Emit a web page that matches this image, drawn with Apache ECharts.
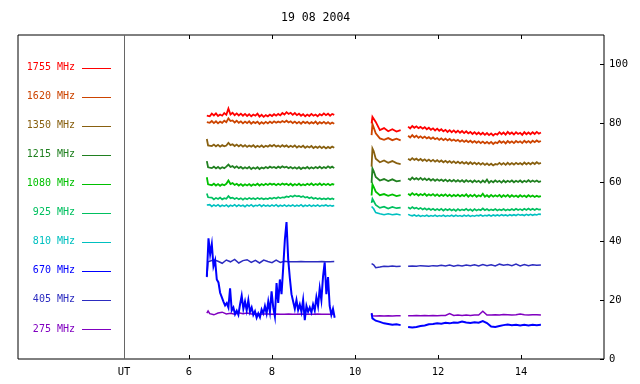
<!DOCTYPE html>
<html>
<head>
<meta charset="utf-8">
<script src="https://cdn.jsdelivr.net/npm/echarts@6/dist/echarts.min.js"></script>
<style>html,body{margin:0;padding:0;background:#fff}#c{width:640px;height:384px}</style>
</head>
<body>
<div id="c"></div>
<script>
// ---- data ----
const title = '19 08 2004';
const freqNames = ['1755 MHz','1620 MHz','1350 MHz','1215 MHz','1080 MHz','925 MHz','810 MHz','670 MHz','405 MHz','275 MHz'];
const freqColors = ['#ff0000','#cc4400','#886010','#208020','#00c000','#00c060','#00c0c0','#0000ff','#2c2cc0','#8000c0'];
const xTickValues = [6, 8, 10, 12, 14];
const yTickValues = [0, 20, 40, 60, 80, 100];
const utPos = 4.434;

// time grids (UT hours)
const t1 = [6.43,6.46,6.5,6.6,6.7,6.8,6.9,7.0,7.1,7.2,7.3,7.4,7.5,7.6,7.7,7.8,7.9,8.0,8.1,8.2,8.3,8.4,8.5,8.6,8.7,8.8,8.9,9.0,9.1,9.2,9.3,9.4,9.5];
const t1dense = [6.43,6.46,6.50,6.55,6.60,6.65,6.70,6.75,6.80,6.85,6.90,6.95,7.00,7.05,7.10,7.15,7.20,7.25,7.30,7.35,7.40,7.45,7.50,7.55,7.60,7.65,7.70,7.75,7.80,7.85,7.90,7.95,8.00,8.05,8.10,8.15,8.20,8.25,8.30,8.35,8.40,8.45,8.50,8.55,8.60,8.65,8.70,8.75,8.80,8.85,8.90,8.95,9.00,9.05,9.10,9.15,9.20,9.25,9.30,9.35,9.40,9.45,9.50];
const t1fine = [6.43,6.47,6.51,6.55,6.59,6.63,6.67,6.71,6.75,6.79,6.83,6.87,6.91,6.95,6.99,7.03,7.07,7.11,7.15,7.19,7.23,7.27,7.31,7.35,7.39,7.43,7.47,7.51,7.55,7.59,7.63,7.67,7.71,7.75,7.79,7.83,7.87,7.91,7.95,7.99,8.03,8.07,8.11,8.15,8.19,8.23,8.27,8.31,8.35,8.39,8.43,8.47,8.51,8.55,8.59,8.63,8.67,8.71,8.75,8.79,8.83,8.87,8.91,8.95,8.99,9.03,9.07,9.11,9.15,9.19,9.23,9.27,9.31,9.35,9.39,9.43,9.47,9.51];
const t2a = [10.40,10.42,10.45,10.5,10.6,10.7,10.8,10.9,11.0,11.1];
const t2b = [11.28,11.38,11.48,11.58,11.68,11.78,11.88,11.98,12.08,12.18,12.28,12.38,12.48,12.58,12.68,12.78,12.88,12.98,13.08,13.18,13.28,13.38,13.48,13.58,13.68,13.78,13.88,13.98,14.08,14.18,14.28,14.38,14.48];
const t2bDense = [11.28,11.33,11.38,11.43,11.48,11.53,11.58,11.63,11.68,11.73,11.78,11.83,11.88,11.93,11.98,12.03,12.08,12.13,12.18,12.23,12.28,12.33,12.38,12.43,12.48,12.53,12.58,12.63,12.68,12.73,12.78,12.83,12.88,12.93,12.98,13.03,13.08,13.13,13.18,13.23,13.28,13.33,13.38,13.43,13.48,13.53,13.58,13.63,13.68,13.73,13.78,13.83,13.88,13.93,13.98,14.03,14.08,14.13,14.18,14.23,14.28,14.33,14.38,14.43,14.48];

// 1755 MHz
const f1755a = [82.6,83.1,82.4,83.3,82.7,83.4,82.5,83.0,82.6,83.5,
  82.9,85.0,83.0,83.6,82.8,83.4,82.7,83.3,82.6,83.2,
  82.5,83.1,82.4,83.0,82.6,83.3,82.3,82.9,82.2,82.8,
  82.4,83.0,82.5,83.1,82.6,83.2,82.7,83.5,83.0,83.8,
  83.2,83.6,82.9,83.5,82.8,83.3,82.6,83.1,82.4,83.0,
  82.5,83.2,82.6,83.0,82.4,83.1,82.7,83.4,82.8,83.3,
  82.6,83.2,82.9];
const f1755b = [80.0,82.2,81.9,80.5,77.7,78.4,77.3,78.0,77.2,77.7];
const f1755c = [78.9,78.3,79.1,78.5,79.0,78.4,78.8,78.2,78.7,78.0,
  78.5,77.8,78.3,77.6,78.2,77.5,78.0,77.3,77.8,77.1,
  77.7,77.0,77.6,76.9,77.5,76.8,77.4,76.7,77.3,76.6,
  77.1,76.4,77.0,76.3,76.9,76.2,76.8,76.1,76.7,76.0,
  76.6,75.9,76.5,76.2,77.0,76.3,76.9,76.2,77.1,76.4,
  76.9,76.2,77.0,76.4,76.8,76.1,77.0,76.3,76.9,76.3,
  77.0,76.4,77.1,76.5,76.9];
// 1620 MHz
const f1620a = [80.4,80.9,80.2,80.8,80.1,80.7,80.0,80.6,80.2,80.9,
  80.4,81.7,80.8,81.0,80.3,80.9,80.2,80.7,80.0,80.6,
  80.1,80.7,79.9,80.5,80.1,80.6,79.8,80.4,79.9,80.5,
  80.0,80.6,80.1,80.7,80.2,80.6,80.3,80.8,80.4,80.9,
  80.3,80.7,80.1,80.6,80.0,80.5,79.9,80.6,80.1,80.5,
  79.9,80.4,80.0,80.6,79.8,80.4,80.0,80.5,79.9,80.4,
  79.8,80.3,79.9];
const f1620b = [76.0,79.8,79.2,76.6,74.9,74.4,75.0,74.3,74.8,74.2];
const f1620c = [75.8,75.2,76.0,75.3,75.8,75.1,75.6,75.0,75.5,74.9,
  75.3,74.7,75.2,74.6,75.0,74.4,74.9,74.3,74.8,74.2,
  74.7,74.1,74.5,74.0,74.4,73.8,74.3,73.7,74.2,73.6,
  74.1,73.5,74.0,73.4,73.9,73.3,73.8,73.2,73.7,73.1,
  73.7,73.0,73.6,73.3,74.0,73.4,73.9,73.2,74.0,73.4,
  73.9,73.3,74.0,73.5,73.9,73.3,74.1,73.5,74.0,73.4,
  74.1,73.6,74.2,73.7,74.0];
// 1350 MHz
const f1350a = [74.7,72.5,72.9,72.3,72.8,72.2,72.7,72.1,72.6,72.2,
  72.5,73.4,72.6,72.9,72.3,72.8,72.2,72.7,72.1,72.6,
  72.0,72.5,72.1,72.6,71.9,72.4,72.0,72.5,71.9,72.4,
  72.1,72.6,72.2,72.7,72.1,72.5,72.0,72.6,72.1,72.5,
  71.9,72.4,72.0,72.5,71.8,72.3,71.9,72.4,71.7,72.2,
  71.8,72.3,71.6,72.1,71.7,72.2,71.6,72.1,71.5,72.0,
  71.6,72.1,71.7];
const f1350b = [65.3,71.5,70.6,68.0,66.8,67.4,66.6,67.2,66.5,66.2];
const f1350c = [68.0,67.5,68.2,67.6,68.0,67.4,67.9,67.3,67.8,67.2,
  67.7,67.1,67.6,67.0,67.5,66.9,67.4,66.8,67.3,66.7,
  67.2,66.6,67.1,66.5,67.0,66.4,66.9,66.3,66.8,66.2,
  66.8,66.2,66.7,66.1,66.6,66.0,66.5,65.9,66.4,65.8,
  66.3,65.7,66.2,66.0,66.6,66.0,66.5,65.9,66.6,66.0,
  66.5,66.0,66.6,66.1,66.5,66.0,66.7,66.1,66.6,66.1,
  66.7,66.2,66.8,66.3,66.6];
// 1215 MHz
const f1215a = [67.2,65.1,65.4,64.8,65.3,64.7,65.2,64.6,65.1,64.8,
  65.3,66.0,65.2,65.5,64.9,65.4,64.8,65.2,64.6,65.1,
  64.7,65.2,64.5,65.0,64.6,65.1,64.5,65.0,64.7,65.2,
  64.8,65.3,64.9,65.2,64.8,65.3,64.9,65.4,65.0,65.3,
  64.8,65.2,64.7,65.1,64.6,65.1,64.5,65.0,64.7,65.2,
  64.6,65.1,64.7,65.2,64.8,65.3,64.7,65.2,64.8,65.4,
  64.9,65.3,64.8];
const f1215b = [59.8,64.7,63.8,61.8,60.6,61.1,60.4,61.0,60.3,60.6];
const f1215c = [61.3,60.8,61.6,61.0,61.4,60.9,61.5,60.8,61.3,60.7,
  61.2,60.6,61.1,60.5,61.0,60.5,60.9,60.4,60.9,60.3,
  60.8,60.3,60.8,60.2,60.7,60.2,60.7,60.1,60.7,60.2,
  60.6,60.0,60.6,60.1,60.5,59.9,60.6,60.0,60.9,59.8,
  60.5,60.0,60.6,60.1,60.5,59.9,60.6,60.0,60.5,60.1,
  60.6,60.0,60.5,60.1,60.6,60.0,60.5,60.1,60.7,60.1,
  60.6,60.2,60.6,60.1,60.4];
// 1080 MHz
const f1080a = [61.7,59.3,59.6,59.0,59.5,58.9,59.4,58.8,59.3,59.0,
  59.5,60.6,59.4,59.7,59.1,59.5,58.9,59.4,58.8,59.3,
  58.9,59.4,58.8,59.3,59.0,59.5,58.9,59.4,59.0,59.5,
  59.1,59.6,59.2,59.5,59.0,59.5,59.1,59.6,59.2,59.5,
  59.0,59.5,58.9,59.4,59.0,59.5,58.9,59.3,59.0,59.5,
  59.1,59.6,59.0,59.4,59.1,59.6,59.0,59.5,59.1,59.5,
  59.0,59.4,59.2];
const f1080b = [55.5,59.3,58.4,56.8,55.6,56.0,55.4,55.9,55.3,55.6];
const f1080c = [56.1,55.6,56.3,55.7,56.1,55.5,56.0,55.6,56.1,55.4,
  55.9,55.5,56.0,55.4,55.9,55.3,55.8,55.4,55.9,55.3,
  55.8,55.2,55.7,55.3,55.8,55.2,55.7,55.3,55.9,55.1,
  55.7,55.2,55.8,55.1,55.6,55.2,56.1,55.1,55.6,55.0,
  55.7,55.1,55.6,55.2,55.7,55.0,55.6,55.1,55.7,55.0,
  55.6,55.1,55.5,55.0,55.6,55.1,55.5,55.0,55.6,55.1,
  55.5,55.0,55.4,55.1,55.3];
// 925 MHz
const f925a = [56.2,54.9,54.3,54.8,54.2,54.7,54.3,54.8,54.2,54.6,
  54.4,55.3,54.6,54.8,54.3,54.7,54.2,54.6,54.1,54.6,
  54.2,54.7,54.3,54.6,54.2,54.7,54.3,54.6,54.2,54.5,
  54.3,54.7,54.4,54.8,54.5,54.9,54.6,54.9,54.8,55.2,
  55.0,55.4,55.1,55.5,55.2,55.4,55.0,55.3,54.8,55.0,
  54.6,54.9,54.4,54.7,54.3,54.6,54.2,54.5,54.2,54.6,
  54.2,54.5,54.2];
const f925b = [53.0,54.4,54.2,52.3,51.3,51.7,51.1,51.6,51.2,51.4];
const f925c = [51.5,51.0,51.6,51.1,51.4,50.9,51.3,50.8,51.2,50.7,
  51.1,50.6,51.0,50.5,50.9,50.5,51.0,50.4,50.9,50.5,
  50.9,50.4,50.8,50.3,50.9,50.4,50.8,50.5,51.0,50.4,
  50.8,50.3,50.9,50.4,50.8,50.5,51.1,50.5,50.9,50.4,
  50.8,50.5,50.9,50.4,50.8,50.5,50.9,50.4,50.8,50.5,
  50.9,50.5,51.0,50.6,50.9,50.5,51.0,50.6,51.1,50.6,
  51.0,50.6,51.0,50.7,50.8];
// 810 MHz
const f810a = [52.3,52.0,52.4,51.8,52.3,51.9,52.4,51.8,52.2,51.9,
  52.3,51.7,52.2,51.9,52.4,51.8,52.3,51.9,52.2,51.7,
  52.3,51.9,52.4,51.8,52.2,52.0,52.4,51.8,52.3,51.9,
  52.2,51.8,52.3,51.9,52.4,51.8,52.2,51.9,52.3,51.8,
  52.2,51.9,52.3,51.8,52.2,51.9,52.4,51.8,52.2,51.9,
  52.3,51.8,52.2,51.9,52.3,51.8,52.2,52.0,52.3,51.9,
  52.2,51.9,52.1];
const f810b = [51.8,51.7,51.0,49.7,49.3,49.0,49.3,49.0,49.2,48.9];
const f810c = [49.1,48.8,48.6,48.9,48.5,48.8,48.4,48.7,48.5,48.8,
  48.4,48.7,48.5,48.8,48.4,48.7,48.5,48.8,48.4,48.7,
  48.5,48.8,48.4,48.8,48.5,48.7,48.4,48.8,48.5,48.8,
  48.4,48.7,48.5,48.8,48.6,48.9,48.5,48.8,48.6,48.9,
  48.5,48.9,48.6,48.9,48.6,49.0,48.7,48.9,48.6,49.0,
  48.7,49.0,48.7,49.1,48.8,49.0,48.7,49.1,48.8,49.1,
  48.8,49.1,48.9,49.2,49.1];
// 670 MHz (first interval on the fine grid)
const f670a = [27.9,41.0,35.5,39.0,31.5,33.5,27.0,26.0,22.5,21.0,
  19.5,18.2,19.0,17.5,24.0,16.5,17.5,15.2,16.4,15.0,
  18.5,21.5,17.0,19.5,16.5,20.0,16.0,17.5,15.0,16.2,
  14.0,15.5,14.2,16.8,15.5,18.0,15.5,19.5,16.0,23.0,
  17.5,14.4,25.8,19.0,27.0,22.0,31.0,40.5,46.5,34.0,
  27.5,22.0,19.5,17.0,20.0,16.6,18.5,16.0,20.0,13.2,
  18.0,16.0,17.5,15.8,18.5,16.5,21.0,18.0,24.0,20.0,
  28.0,32.8,22.0,27.8,18.0,15.0,17.0,14.0];
const f670b = [15.5,13.8,14.0,13.0,12.6,12.1,11.9,11.6,11.8,11.5];
const f670c = [10.9,10.7,10.9,11.2,11.4,11.8,11.9,12.1,12.0,12.3,
  12.1,12.4,12.3,12.7,12.4,12.2,12.5,12.3,12.9,12.2,
  11.0,10.9,11.2,11.5,11.7,11.5,11.6,11.4,11.6,11.4,
  11.6,11.5,11.6];
// 405 MHz
const f405a = [27.8,33.0,32.6,33.7,33.2,32.5,33.6,33.0,33.8,32.6,
  33.4,33.7,32.8,33.5,32.6,33.6,33.1,32.7,33.6,32.8,
  33.2,33.0,33.0,33.0,33.1,33.0,33.0,33.0,33.0,33.1,
  33.0,33.0,33.1];
const f405b = [32.4,32.3,32.0,31.0,31.2,31.5,31.4,31.6,31.4,31.5];
const f405c = [31.5,31.6,31.5,31.7,31.6,31.5,31.7,31.6,31.8,31.6,
  31.9,31.5,31.8,31.6,31.9,31.7,32.0,31.6,32.1,31.7,
  32.0,31.6,32.2,31.8,32.1,31.7,32.2,31.6,32.1,31.7,
  32.0,31.8,31.9];
// 275 MHz
const f275a = [15.6,16.3,15.4,15.0,15.6,15.9,15.3,15.5,15.2,15.7,
  15.4,15.6,15.3,15.4,15.2,15.3,15.3,15.2,15.3,15.2,
  15.2,15.3,15.2,15.2,15.3,15.2,15.2,15.2,15.3,15.2,
  15.2,15.2,15.3];
const f275b = [15.6,14.7,14.6,14.6,14.7,14.6,14.7,14.6,14.7,14.7];
const f275c = [14.7,14.7,14.8,14.7,14.8,14.7,14.8,14.7,14.8,14.8,
  15.4,14.8,14.9,14.8,14.9,14.8,14.9,14.9,16.2,14.9,
  14.9,15.0,14.9,15.1,15.0,14.9,15.0,15.3,15.0,14.9,
  15.0,15.0,14.9];

const seriesValues = [
  [f1755a, f1755b, f1755c],
  [f1620a, f1620b, f1620c],
  [f1350a, f1350b, f1350c],
  [f1215a, f1215b, f1215c],
  [f1080a, f1080b, f1080c],
  [f925a, f925b, f925c],
  [f810a, f810b, f810c],
  [f670a, f670b, f670c],
  [f405a, f405b, f405c],
  [f275a, f275b, f275c]
];

// ---- build ----
const gridsA = [t1, t1dense, t1fine];
const gridsC = [t2b, t2bDense];
function pickGrid(grids, vs) { return grids.find(g => g.length === vs.length) || grids[0]; }
function pairs(ts, vs) {
  const n = Math.min(ts.length, vs.length);
  const out = [];
  for (let i = 0; i < n; i++) out.push([ts[i], vs[i]]);
  return out;
}
function buildSeries(idx) {
  const [a, b, c] = seriesValues[idx];
  return [].concat(pairs(pickGrid(gridsA, a), a), [[9.9, null]], pairs(t2a, b), [[11.2, null]], pairs(pickGrid(gridsC, c), c));
}

const font = 'DejaVu Sans Mono';
const lineWidths = [1.8, 1.8, 1.8, 1.8, 1.8, 1.7, 1.6, 2.0, 1.5, 1.5];
const series = freqNames.map((name, i) => ({
  name: name,
  type: 'line',
  data: buildSeries(i),
  showSymbol: false,
  symbol: 'none',
  connectNulls: false,
  animation: false,
  lineStyle: { color: freqColors[i], width: lineWidths[i], join: 'miter' },
  itemStyle: { color: freqColors[i] },
  z: 12 - i
}));
series[0].markLine = {
  silent: true,
  symbol: ['none', 'none'],
  label: { show: false },
  lineStyle: { color: '#666', width: 1, type: 'solid' },
  data: [{ xAxis: utPos }],
  animation: false
};

// legend drawn as graphic (text right-aligned, then a line)
const legendGraphic = [];
freqNames.forEach((name, i) => {
  const y = 67.5 + i * 29.05;
  legendGraphic.push({
    type: 'text', x: 75, y: y,
    style: { text: name, fill: freqColors[i], font: '10px "' + font + '"', align: 'right', verticalAlign: 'middle' },
    silent: true
  });
  legendGraphic.push({
    type: 'rect', shape: { x: 82, y: Math.round(y), width: 29, height: 1 },
    style: { fill: freqColors[i] }, silent: true
  });
});

const chart = echarts.init(document.getElementById('c'), null, { renderer: 'canvas' });
chart.setOption({
  animation: false,
  backgroundColor: '#fff',
  title: {
    text: title, left: 281, top: 12, padding: 0,
    textStyle: { fontFamily: font, fontSize: 11.5, fontWeight: 'normal', color: '#000' }
  },
  grid: { left: 18, right: 36, top: 35, bottom: 25, show: true, borderColor: '#000', borderWidth: 1, backgroundColor: 'transparent' },
  xAxis: [{
    type: 'value', min: 1.88, max: 16, position: 'bottom',
    axisLine: { show: false },
    splitLine: { show: false },
    axisTick: { show: true, inside: true, length: 4, customValues: xTickValues, lineStyle: { color: '#000' } },
    axisLabel: {
      customValues: [utPos].concat(xTickValues), margin: 8,
      formatter: v => (Math.abs(v - utPos) < 1e-6 ? 'UT' : String(v)),
      fontFamily: font, fontSize: 10.5, color: '#000'
    }
  }, {
    type: 'value', min: 1.88, max: 16, position: 'top',
    axisLine: { show: false },
    splitLine: { show: false },
    axisTick: { show: true, inside: true, length: 4, customValues: xTickValues, lineStyle: { color: '#000' } },
    axisLabel: { show: false }
  }],
  yAxis: {
    type: 'value', min: 0, max: 110, position: 'right',
    axisLine: { show: false },
    splitLine: { show: false },
    axisTick: { show: true, inside: true, length: 4, customValues: yTickValues, lineStyle: { color: '#000' } },
    axisLabel: { customValues: yTickValues, margin: 5, fontFamily: font, fontSize: 10.5, color: '#000' }
  },
  graphic: legendGraphic,
  series: series
});
</script>
</body>
</html>
